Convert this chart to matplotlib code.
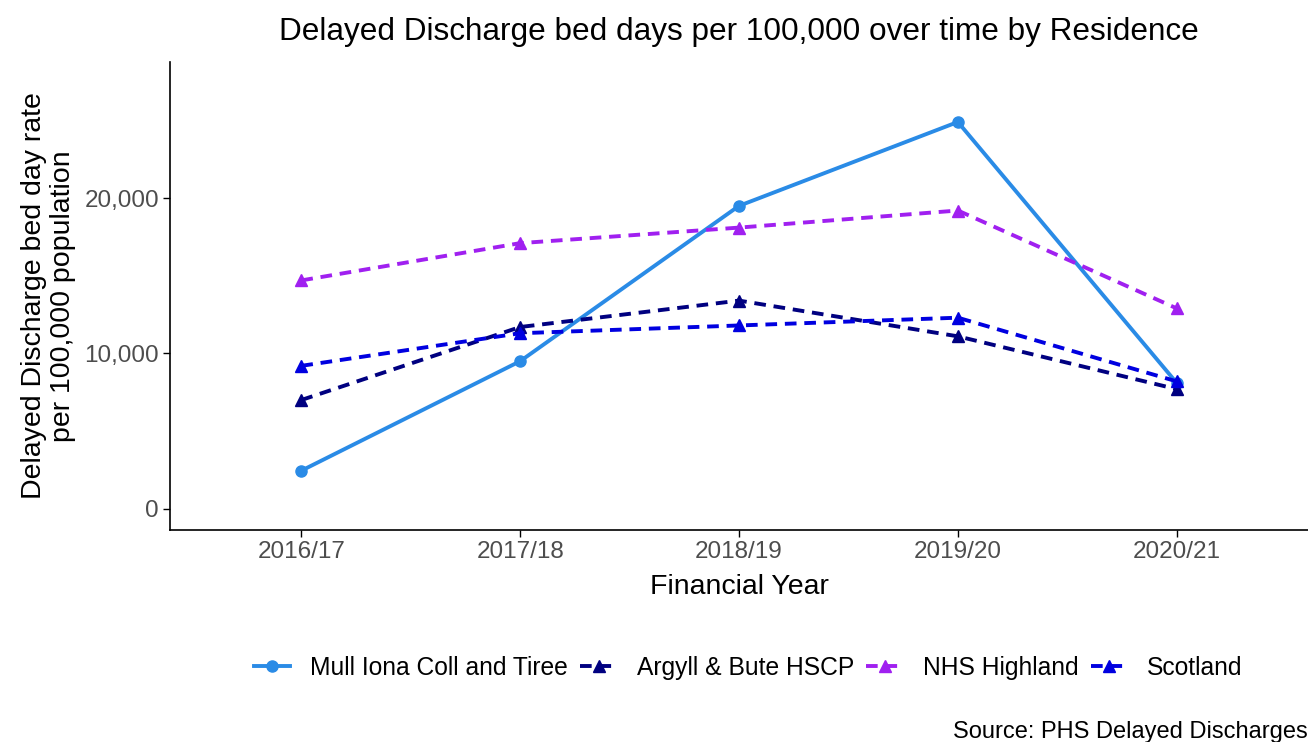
import matplotlib.pyplot as plt
from matplotlib.ticker import FuncFormatter

years = ["2016/17", "2017/18", "2018/19", "2019/20", "2020/21"]

mull = [2450, 9500, 19500, 24900, 8100]
argyll = [7000, 11700, 13400, 11100, 7700]
highland = [14700, 17100, 18100, 19200, 12900]
scotland = [9200, 11300, 11800, 12300, 8200]

series = [
    ("Mull Iona Coll and Tiree", mull, "#2a8be6", "-", "o"),
    ("Argyll & Bute HSCP", argyll, "#000080", "--", "^"),
    ("NHS Highland", highland, "#a020f0", "--", "^"),
    ("Scotland", scotland, "#0000e0", "--", "^"),
]

plt.rcParams["font.family"] = ["Liberation Sans", "DejaVu Sans"]


def main():
    fig = plt.figure(figsize=(13.08, 7.42), dpi=100)
    ax = fig.add_axes([0.13, 0.2857, 0.87, 0.6307])

    x = list(range(len(years)))
    for name, vals, col, ls, mk in series:
        ax.plot(x, vals, color=col, linestyle=ls, linewidth=2.8,
                marker=mk, markersize=8, label=name,
                dashes=(3, 2) if ls == "--" else (None, None))

    ymax = max(mull) * 1.1
    pad = ymax * 0.05
    ax.set_ylim(-pad, ymax + pad)
    ax.set_xlim(-0.6, len(years) - 0.4)
    ax.set_xticks(x)
    ax.set_xticklabels(years)
    ax.set_yticks([0, 10000, 20000])
    ax.yaxis.set_major_formatter(FuncFormatter(lambda v, p: f"{int(v):,}"))

    for side in ["top", "right"]:
        ax.spines[side].set_visible(False)
    for side in ["left", "bottom"]:
        ax.spines[side].set_linewidth(1.2)
    ax.tick_params(labelsize=17.5, labelcolor="#4d4d4d", length=5, width=1,
                   pad=3)

    ax.set_xlabel("Financial Year", fontsize=20.5, labelpad=8)
    ax.set_ylabel("Delayed Discharge bed day rate\nper 100,000 population",
                  fontsize=20.5, labelpad=6, linespacing=1.15)
    ax.set_title("Delayed Discharge bed days per 100,000 over time by Residence",
                 fontsize=22.7, pad=16)

    fig.legend(loc="center", bbox_to_anchor=(0.572, 0.1), ncol=4,
               frameon=False, fontsize=17.7, handlelength=1.5,
               columnspacing=0.5, handletextpad=0.8, markerscale=1.0)
    fig.text(1.0, -0.002, "Source: PHS Delayed Discharges", ha="right",
             va="bottom", fontsize=17)

    fig.savefig("out.png", dpi=100)


if __name__ == "__main__":
    main()
